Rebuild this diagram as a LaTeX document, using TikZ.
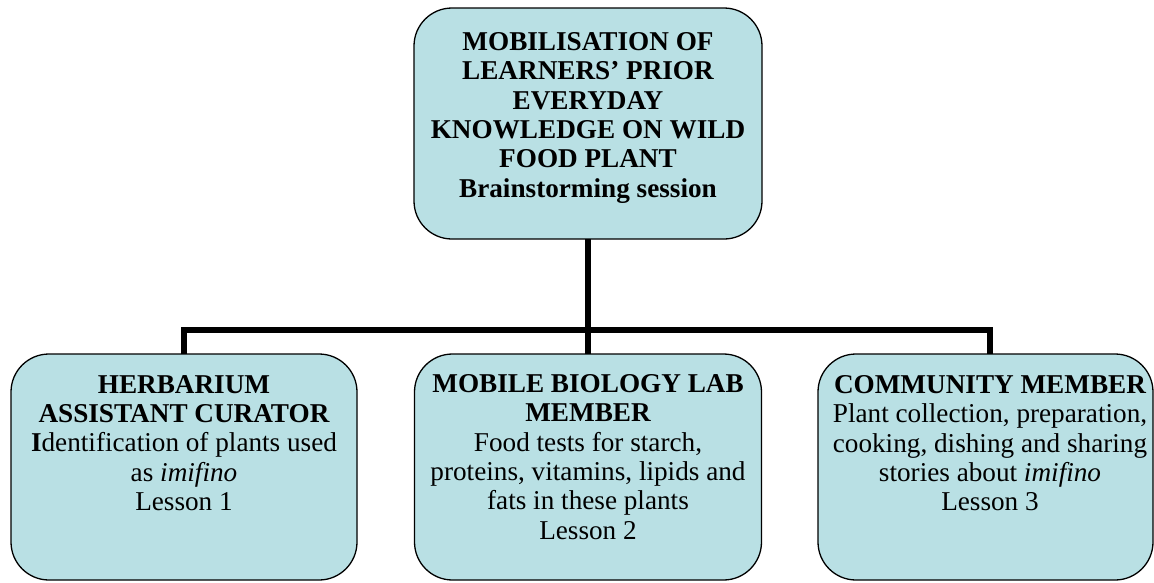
\documentclass[tikz,border=0pt]{standalone}
\usepackage{fontspec}
\setmainfont{Liberation Serif}
\definecolor{boxfill}{RGB}{185,224,228}
\begin{document}
\begin{tikzpicture}[x=1pt,y=-1pt,
  card/.style={draw=black,line width=1.3pt,fill=boxfill,rounded corners=38pt,
    inner sep=0pt,outer sep=0pt},
  cardtext/.style={anchor=north,align=center,inner sep=0pt,
    font=\fontsize{27.2pt}{29.4pt}\selectfont},
  conn/.style={draw=black,line width=5.5pt}]
\useasboundingbox (0,0) rectangle (1154,582);

% boxes
\node[card,minimum width=348pt,minimum height=231pt] (top) at (588,123.5) {};
\node[card,minimum width=346pt,minimum height=226pt] (lbox) at (184,467) {};
\node[card,minimum width=347pt,minimum height=226pt] (mbox) at (588,467) {};
\node[card,minimum width=335pt,minimum height=226pt] (rbox) at (985.5,467) {};

% where the right branch meets its box
\coordinate (rtap) at (990,354);
\coordinate (bar) at (184,330);

% connectors
\draw[conn] (top.south) -- (mbox.north);
\draw[conn,line cap=butt] (lbox.north) -- (bar) -| (rtap);

% texts
\node[cardtext] (toptext) at (588,32) {\bfseries MOBILISATION OF\\\bfseries LEARNERS’ PRIOR\\\bfseries EVERYDAY\\\bfseries KNOWLEDGE ON WILD\\\bfseries FOOD PLANT\\\bfseries Brainstorming session};
\node[cardtext] (ltext) at (184,375) {\bfseries HERBARIUM\\\bfseries ASSISTANT CURATOR\\\textbf{I}dentification of plants used\\as \textit{imifino}\\Lesson 1};
\node[cardtext] (mtext) at (588,374) {\bfseries MOBILE BIOLOGY LAB\\\bfseries MEMBER\\Food tests for starch,\\proteins, vitamins, lipids and\\fats in these plants\\Lesson 2};
\node[cardtext] (rtext) at (990,375) {\bfseries COMMUNITY MEMBER\\Plant collection, preparation,\\cooking, dishing and sharing\\stories about \textit{imifino}\\Lesson 3};
\end{tikzpicture}
\end{document}
